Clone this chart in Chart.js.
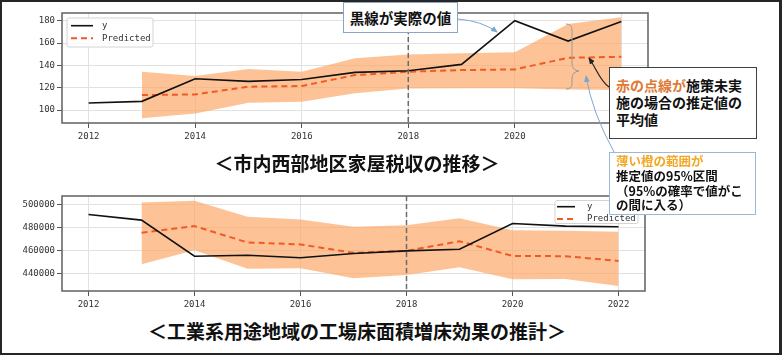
<!DOCTYPE html>
<html>
<head>
<meta charset="utf-8">
<script src="https://cdn.jsdelivr.net/npm/chart.js@4.4.0/dist/chart.umd.min.js"></script>
<style>
body{margin:0;width:784px;height:358px;position:relative;background:#fff;overflow:hidden;font-family:"Noto Sans CJK JP",sans-serif;}
#frame{position:absolute;left:0;top:0;width:782px;height:355px;box-sizing:border-box;border:2px solid #262626;border-right-width:3px;}
canvas{position:absolute;left:0;}
#c1{top:0;}
#c2{top:180px;}
.title{position:absolute;left:0;width:714px;text-align:center;font-size:19px;font-weight:700;color:#111;line-height:19px;white-space:nowrap;}
.box{position:absolute;background:#fff;box-sizing:border-box;font-weight:700;color:#111;white-space:nowrap;}
#b1{left:343px;top:2px;width:115px;height:31px;border:1px solid #8aa6c4;font-size:14.5px;line-height:29px;text-align:center;}
#b2{left:609px;top:67px;width:148px;height:72px;border:1px solid #404040;font-size:14px;line-height:17px;padding:9px 0 0 6px;}
#b3{left:609px;top:152px;width:147px;height:63px;border:1px solid #9ab8d8;font-size:12.5px;line-height:14.8px;padding:1px 0 0 6px;}
.or{color:#e07a38;}
.yl{color:#f3a623;}
svg{position:absolute;left:0;top:0;}
</style>
</head>
<body>
<div id="frame"></div>
<canvas id="c1" width="660" height="150"></canvas>
<canvas id="c2" width="660" height="135"></canvas>
<div class="title" style="top:153px">＜市内西部地区家屋税収の推移＞</div>
<div class="title" style="top:321px">＜工業系用途地域の工場床面積増床効果の推計＞</div>

<svg width="784" height="358">
  <defs>
    <marker id="ab" markerWidth="7" markerHeight="6" refX="6" refY="3" orient="auto" markerUnits="userSpaceOnUse">
      <path d="M0,0 L7,3 L0,6 z" fill="#7ea6cf"/>
    </marker>
    <marker id="ak" markerWidth="7" markerHeight="6" refX="6" refY="3" orient="auto" markerUnits="userSpaceOnUse">
      <path d="M0,0 L7,3 L0,6 z" fill="#222"/>
    </marker>
  </defs>
  <path d="M566,24 Q572,24 572,30 L572,64 Q572,70 579,71 Q572,72 572,78 L572,84 Q572,89 566,89" fill="none" stroke="#9a9a9a" stroke-width="1"/>
  <path d="M458,19 Q482,21 497,32" fill="none" stroke="#7ea6cf" stroke-width="1" marker-end="url(#ab)"/>
  <path d="M609,87 C600,81 596,68 589,58" fill="none" stroke="#222" stroke-width="1.2" marker-end="url(#ak)"/>
  <path d="M614,152 Q592,112 586,76" fill="none" stroke="#7ea6cf" stroke-width="1" marker-end="url(#ab)"/>
</svg>

<div class="box" id="b1">黒線が実際の値</div>
<div class="box" id="b2"><span class="or">赤の点線が</span>施策未実<br>施の場合の推定値の<br>平均値</div>
<div class="box" id="b3"><span class="yl">薄い橙の範囲が</span><br>推定値の95%区間<br>（95%の確率で値がこ<br>の間に入る）</div>

<script>
const years = [2012,2013,2014,2015,2016,2017,2018,2019,2020,2021,2022];
const xTicks = [2012,2014,2016,2018,2020,2022];
const policyYear = 2018;

// 市内西部地区家屋税収
const taxActual = [106.3,107.8,128.0,125.7,127.4,133.7,135.2,140.9,180.0,161.8,179.4];
const taxPred   = [null,113.4,114.0,120.9,121.5,131.3,134.3,135.8,136.4,146.8,147.7];
const taxUpper  = [null,134.3,130.4,136.7,134.3,146.3,149.8,150.8,151.7,177.0,183.0];
const taxLower  = [null,92.6,97.0,106.5,107.4,115.0,119.4,119.5,119.6,118.5,117.9];
const taxTicks  = [100,120,140,160,180];

// 工場床面積
const floorActual = [491600,486700,455400,456200,454100,457700,460000,461400,483800,481500,480900];
const floorPred   = [null,475700,481500,467300,465600,458300,460000,468400,455600,455400,451300];
const floorUpper  = [null,502000,503500,489600,487300,480900,482300,488200,478000,477500,476600];
const floorLower  = [null,448400,460600,444600,444900,436200,439000,445800,435400,435600,429600];
const floorTicks  = [440000,460000,480000,500000];

function pts(vals){
  return years.map((yr,i) => ({x: yr, y: vals[i]})).filter(p => p.y !== null);
}

const marks = {
  id: 'marks',
  afterDatasetsDraw(chart, args, opts){
    const {ctx, chartArea: a, scales} = chart;
    ctx.save();
    let px = scales.x.getPixelForValue(opts.vline);
    ctx.strokeStyle = '#6b6b6b';
    ctx.lineWidth = 1.5;
    ctx.setLineDash([5,3]);
    ctx.beginPath(); ctx.moveTo(px, a.top); ctx.lineTo(px, a.bottom); ctx.stroke();
    ctx.setLineDash([]);
    ctx.strokeStyle = '#6a6a6a';
    ctx.lineWidth = 1.6;
    ctx.strokeRect(a.left, a.top, a.right - a.left, a.bottom - a.top);

    // legend
    let lg = opts.legend;
    ctx.fillStyle = 'rgba(255,255,255,0.85)';
    ctx.strokeStyle = '#d4d4d4';
    ctx.lineWidth = 1;
    ctx.beginPath();
    ctx.roundRect(lg.x, lg.y, lg.w, lg.h, 2);
    ctx.fill(); ctx.stroke();
    ctx.font = '9px "DejaVu Sans Mono"';
    ctx.textBaseline = 'middle';
    chart.data.datasets.slice(0,2).forEach((ds,i) => {
      let ry = lg.rows[i];
      ctx.strokeStyle = ds.borderColor;
      ctx.lineWidth = ds.borderWidth;
      ctx.setLineDash(ds.borderDash || []);
      ctx.beginPath(); ctx.moveTo(lg.s0, ry); ctx.lineTo(lg.s1, ry); ctx.stroke();
      ctx.setLineDash([]);
      ctx.fillStyle = '#333';
      ctx.fillText(ds.label, lg.tx, ry);
    });
    ctx.restore();
  }
};

function makeChart(id, actual, pred, upper, lower, yMin, yMax, yTicks, pad, xH, legend){
  return new Chart(document.getElementById(id), {
    type: 'line',
    data: {
      datasets: [
        {label: 'y', data: pts(actual), borderColor: '#111', borderWidth: 1.6, pointRadius: 0, fill: false},
        {label: 'Predicted', data: pts(pred), borderColor: '#f05a24', borderWidth: 2, borderDash: [6,4], pointRadius: 0, fill: false},
        {label: 'upper', data: pts(upper), borderWidth: 0, borderColor: 'rgba(0,0,0,0)', pointRadius: 0, fill: '+1', backgroundColor: 'rgba(252,169,105,0.7)'},
        {label: 'lower', data: pts(lower), borderWidth: 0, borderColor: 'rgba(0,0,0,0)', pointRadius: 0, fill: false}
      ]
    },
    options: {
      responsive: false,
      animation: false,
      devicePixelRatio: 1,
      layout: {padding: pad},
      plugins: {legend: {display: false}, tooltip: {enabled: false}, marks: {vline: policyYear, legend: legend}},
      scales: {
        x: {
          type: 'linear', min: 2011.5, max: 2022.5,
          afterBuildTicks: s => { s.ticks = xTicks.map(v => ({value: v})); },
          afterFit: s => { s.height = xH; },
          grid: {color: '#e2e2e2', tickColor: '#555', tickLength: 5},
          border: {display: false},
          ticks: {callback: v => String(v), font: {family: 'DejaVu Sans Mono', size: 9}, color: '#333', padding: 3, maxRotation: 0}
        },
        y: {
          min: yMin, max: yMax,
          afterBuildTicks: s => { s.ticks = yTicks.map(v => ({value: v})); },
          afterFit: s => { s.width = 62; },
          grid: {color: '#e2e2e2', tickColor: '#555', tickLength: 5},
          border: {display: false},
          ticks: {callback: v => String(v), font: {family: 'DejaVu Sans Mono', size: 9}, color: '#333', padding: 2}
        }
      }
    },
    plugins: [marks]
  });
}

makeChart('c1', taxActual, taxPred, taxUpper, taxLower, 88.4, 186.9, taxTicks,
  {top: 13, right: 12, left: 0, bottom: 0}, 27,
  {x: 67, y: 18, w: 86, h: 29, s0: 71, s1: 93, tx: 102, rows: [25.7, 38.2]});

makeChart('c2', floorActual, floorPred, floorUpper, floorLower, 425200, 507600, floorTicks,
  {top: 16, right: 15, left: 0, bottom: 0}, 24,
  {x: 555, y: 20.5, w: 83, h: 23, s0: 557, s1: 575, tx: 587, rows: [26.7, 39]});
</script>
</body>
</html>
